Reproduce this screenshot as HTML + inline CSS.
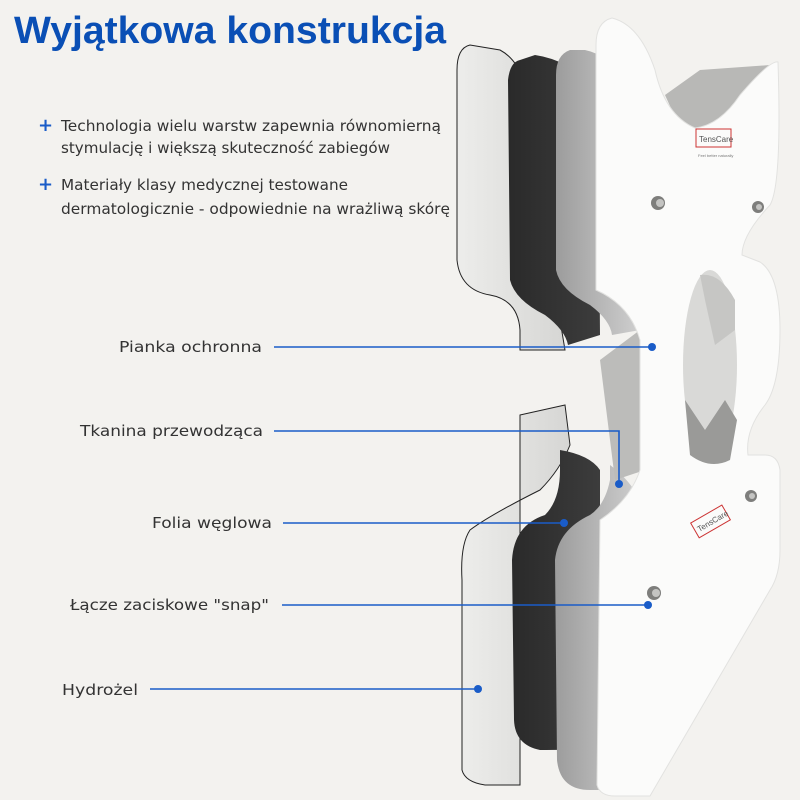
<!DOCTYPE html>
<html><head><meta charset="utf-8"><style>
html,body{margin:0;padding:0;background:#f3f2ef;}
svg{display:block;}
</style></head><body>
<svg width="800" height="800" viewBox="0 0 800 800" xmlns="http://www.w3.org/2000/svg">
<defs>
<linearGradient id="g1" x1="0" x2="1"><stop offset="0" stop-color="#ededeb"/><stop offset="1" stop-color="#d6d6d4"/></linearGradient>
<linearGradient id="g2" x1="0" x2="1"><stop offset="0" stop-color="#2a2a2a"/><stop offset="1" stop-color="#3c3c3c"/></linearGradient>
<linearGradient id="g3" x1="0" x2="1"><stop offset="0" stop-color="#9c9c9c"/><stop offset="1" stop-color="#cfcfcf"/></linearGradient>
</defs>
<rect width="800" height="800" fill="#f3f2ef"/>

<!-- back pieces behind white -->
<path d="M665 95 L700 70 L770 65 L760 150 L690 150 Z" fill="#b8b8b6"/>
<path d="M720 575 L765 570 L760 590 L735 600 Z" fill="#bdbdbb"/>

<!-- layer 1 hydrogel (light) -->
<path d="M470 45 Q457 48 457 70 L457 260 Q460 290 490 295 Q518 300 520 330 L520 350 L565 350 L560 320 Q540 300 535 275 L530 120 Q528 65 500 50 Z" fill="url(#g1)" stroke="#222" stroke-width="1"/>
<path d="M520 415 L565 405 L570 445 Q560 470 540 490 Q490 515 470 530 Q460 545 462 580 L462 770 Q465 782 485 785 L520 785 L520 440 Z" fill="url(#g1)" stroke="#222" stroke-width="1"/>
<!-- layer 2 carbon (black) -->
<path d="M520 60 Q510 62 508 80 L510 280 Q515 300 545 315 Q565 330 568 345 L600 335 L598 90 Q570 60 535 55 Z" fill="url(#g2)"/>
<path d="M560 450 Q590 455 600 470 L600 745 Q590 750 540 750 Q515 745 514 720 L512 560 Q514 525 545 515 Q560 500 560 470 Z" fill="url(#g2)"/>
<!-- layer 3 gray -->
<path d="M570 50 Q556 55 556 75 L556 270 Q560 290 590 305 Q610 320 612 335 L640 330 L640 90 Q610 55 585 50 Z" fill="url(#g3)"/>
<path d="M610 465 Q630 480 640 500 L640 790 L590 790 Q560 790 557 760 L555 560 Q558 530 590 515 Q605 505 610 480 Z" fill="url(#g3)"/>
<!-- gray transparent piece middle -->
<path d="M600 360 L640 330 L645 470 L615 480 Z" fill="#bcbcba"/>

<!-- white main electrode -->
<path d="M612 18 Q596 22 596 45 L596 290 Q630 305 640 340 L640 470 Q630 500 600 520 L597 785 Q600 796 615 796 L650 796 L770 590 Q780 575 780 550 L780 470 Q778 455 765 455 L748 455 Q745 430 765 405 Q780 385 780 330 Q780 275 760 262 L742 255 Q742 235 770 205 Q782 185 778 62 Q770 60 740 95 Q720 125 695 128 Q665 115 655 70 Q640 25 612 18 Z" fill="#fbfbfa" stroke="#e2e2e0" stroke-width="1"/>
<!-- hole -->
<ellipse cx="710" cy="365" rx="27" ry="95" fill="#d9d9d7"/>
<path d="M685 400 L705 430 L725 400 L737 420 L730 460 Q710 470 690 455 Z" fill="#9a9a98"/>
<path d="M700 275 Q720 272 735 300 L735 330 L715 345 L705 300 Z" fill="#c6c6c4"/>
<!-- snaps -->
<circle cx="658" cy="203" r="7" fill="#7e7e7c"/><circle cx="660" cy="203" r="4" fill="#c4c4c2"/>
<circle cx="758" cy="207" r="6" fill="#7e7e7c"/><circle cx="759" cy="207" r="3" fill="#c4c4c2"/>
<circle cx="751" cy="496" r="6" fill="#7e7e7c"/><circle cx="752" cy="496" r="3" fill="#c4c4c2"/>
<circle cx="654" cy="593" r="7" fill="#7e7e7c"/><circle cx="656" cy="593" r="4" fill="#c4c4c2"/>
<!-- logos -->
<rect x="696" y="129" width="35" height="18" fill="none" stroke="#c33" stroke-width="1"/>
<text x="699" y="142" style="font-family:'Liberation Sans',sans-serif" font-size="8" fill="#555">TensCare</text>
<text x="698" y="157" style="font-family:'Liberation Sans',sans-serif" font-size="4" fill="#777">Feel better naturally</text>
<g transform="rotate(-30 712 520)"><rect x="692" y="512" width="36" height="17" fill="none" stroke="#c33" stroke-width="1"/><text x="695" y="524" style="font-family:'Liberation Sans',sans-serif" font-size="8" fill="#555">TensCare</text></g>

<!-- title -->
<text x="14" y="43" style="font-family:'Liberation Sans',Arial,sans-serif;font-weight:bold" font-size="38" fill="#0a4fb5" textLength="432" lengthAdjust="spacingAndGlyphs">Wyjątkowa konstrukcja</text>

<!-- bullets -->
<g fill="#1a5cc8" style="font-family:'DejaVu Sans',sans-serif;font-weight:bold" font-size="18"><text x="38" y="131">+</text><text x="38" y="190">+</text></g>
<g fill="#333" style="font-family:'DejaVu Sans',sans-serif" font-size="15">
<text x="61" y="131" textLength="380" lengthAdjust="spacingAndGlyphs">Technologia wielu warstw zapewnia równomierną</text>
<text x="61" y="153" textLength="329" lengthAdjust="spacingAndGlyphs">stymulację i większą skuteczność zabiegów</text>
<text x="61" y="190" textLength="287" lengthAdjust="spacingAndGlyphs">Materiały klasy medycznej testowane</text>
<text x="61" y="214" textLength="389" lengthAdjust="spacingAndGlyphs">dermatologicznie - odpowiednie na wrażliwą skórę</text>
</g>

<!-- labels -->
<g fill="#333" style="font-family:'DejaVu Sans',sans-serif" font-size="15">
<text x="119" y="352" textLength="143" lengthAdjust="spacingAndGlyphs">Pianka ochronna</text>
<text x="80" y="436" textLength="183" lengthAdjust="spacingAndGlyphs">Tkanina przewodząca</text>
<text x="152" y="528" textLength="120" lengthAdjust="spacingAndGlyphs">Folia węglowa</text>
<text x="70" y="610" textLength="199" lengthAdjust="spacingAndGlyphs">Łącze zaciskowe "snap"</text>
<text x="62" y="695" textLength="76" lengthAdjust="spacingAndGlyphs">Hydrożel</text>
</g>
<g stroke="#1a5cc8" stroke-width="1.6" fill="none">
<path d="M274 347 H652"/>
<path d="M274 431 H619 V484"/>
<path d="M283 523 H564"/>
<path d="M282 605 H648"/>
<path d="M150 689 H478"/>
</g>
<g fill="#1a5cc8">
<circle cx="652" cy="347" r="4"/><circle cx="619" cy="484" r="4"/><circle cx="564" cy="523" r="4"/><circle cx="648" cy="605" r="4"/><circle cx="478" cy="689" r="4"/>
</g>
</svg>
</body></html>
